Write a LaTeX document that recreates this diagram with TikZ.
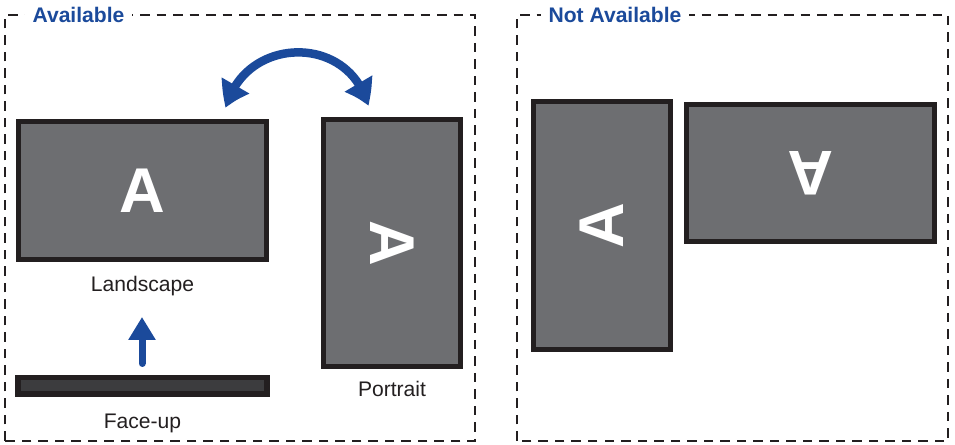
\documentclass[tikz,border=0pt]{standalone}
\usepackage{fontspec}
\setmainfont{Liberation Sans}
\usetikzlibrary{positioning, arrows.meta, bending}

\definecolor{bezel}{HTML}{231F20}
\definecolor{panel}{HTML}{6D6E71}
\definecolor{panelback}{HTML}{3C3C3E}
\definecolor{turnblue}{HTML}{1B4A9B}

\begin{document}
\begin{tikzpicture}[node distance=1mm,
  frame/.style={draw=bezel,line width=0.04cm,dash pattern=on 0.19cm off 0.14cm},
  title/.style={fill=white,inner sep=1.5mm,text=turnblue,font=\bfseries\fontsize{12}{14}\selectfont},
  screen/.style={rectangle,draw=bezel,line width=0.11cm,fill=panel,inner sep=0pt,text=white,font=\bfseries\fontsize{36}{40}\selectfont},
  caption/.style={text=bezel,font=\fontsize{12}{14}\selectfont},
  turn/.style={draw=turnblue,line width=0.17cm}]

\useasboundingbox (0,0) rectangle (19.1,8.9);

% Available
\draw [frame] (0.10,0.08) rectangle (9.50,8.60);
\node [title] (availtitle) at (1.57,8.60) {Available};

\node at (2.85,5.09) [screen,minimum width=4.96cm,minimum height=2.76cm] (landscape) {A};
\node [caption,below=1.5mm of landscape] (landcap) {Landscape};

\node at (7.84,4.04) [screen,minimum width=4.94cm,minimum height=2.74cm,rotate=-90] (portrait) {A};
\node [caption,below=1.2mm of portrait.east] (portcap) {Portrait};

\node at (2.85,1.18) [screen,fill=panelback,minimum width=4.98cm,minimum height=0.33cm] (faceup) {};
\node [caption,below=2.2mm of faceup] (facecap) {Face-up};

% arrows
\coordinate (liftS) at (2.84,1.63);
\coordinate (liftE) at (2.84,2.56);
\draw [turn,line width=0.14cm,line cap=round,-{Triangle[length=0.46cm,width=0.52cm]}] (liftS) -- (liftE);

\coordinate (swapL) at (4.52,6.74);
\coordinate (swapR) at (7.36,6.78);
\draw [turn,{Triangle[length=0.5cm,width=0.6cm,bend]}-{Triangle[length=0.5cm,width=0.6cm,bend]}]
  (swapL) to [out=76,in=104,looseness=1.35] (swapR);

% Not Available
\draw [frame] (10.34,0.08) rectangle (18.96,8.60);
\node [title] (notavailtitle) at (12.30,8.60) {Not Available};

\node at (12.04,4.39) [screen,minimum width=4.96cm,minimum height=2.74cm,rotate=90] (sideways) {A};
\node at (16.21,5.44) [screen,minimum width=4.96cm,minimum height=2.74cm,rotate=180] (upsidedown) {A};

\end{tikzpicture}
\end{document}
